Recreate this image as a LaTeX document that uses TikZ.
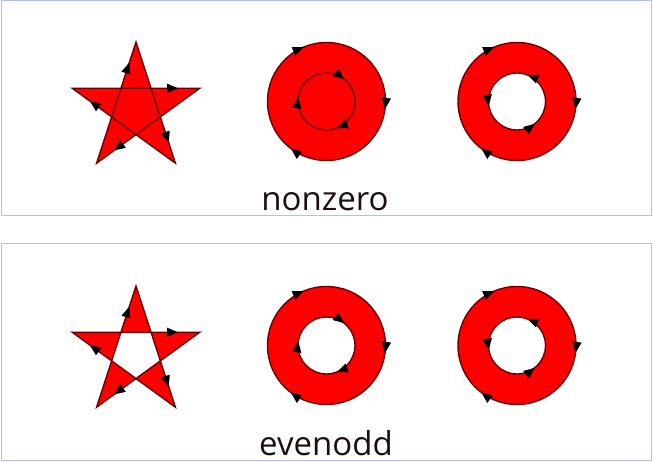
\documentclass[tikz,border=0pt]{standalone}
\usepackage{fontspec}
\setmainfont{Open Sans}
\usetikzlibrary{arrows.meta, decorations.markings}

\definecolor{rimred}{RGB}{105,0,0}
\definecolor{framecol}{RGB}{180,190,240}
\definecolor{inkcol}{RGB}{30,15,15}

\begin{document}
\begin{tikzpicture}[x=1pt, y=-1pt,
        rim/.style={draw=rimred, line width=1.4pt},
        ticks/.style n args={2}{postaction={decorate}, decoration={markings,
            mark=between positions #1 and 1 step #2 with {\arrow[black]{Triangle[length=11pt, width=9pt]}}}},
        panel/.style={draw=framecol, line width=1pt},
        caption/.style={anchor=base, text=inkcol, font=\fontsize{33}{40}\selectfont}]
    \useasboundingbox (0,0) rectangle (653,462);

    % nonzero panel
    \draw[panel] (1,1) rectangle (651,216);
    \coordinate (T1) at (136,42);
    \coordinate (R1) at (199.7,88.3);
    \coordinate (BR1) at (175.4,163.2);
    \coordinate (BL1) at (96.6,163.2);
    \coordinate (L1) at (72.3,88.3);
    \path[fill=red, rim, ticks={0.166}{0.2}] (T1) -- (BR1) -- (L1) -- (R1) -- (BL1) -- cycle;

    \coordinate (C1) at (326.5,101.5);
    \coordinate (C2) at (517,101.5);
    \fill[red] (C1) ++(59,0) arc[start angle=0, end angle=360, radius=59]
        (C1) ++(28.5,0) arc[start angle=0, end angle=360, radius=28.5];
    \draw[rim, ticks={0.02}{0.3333}] (C1) ++(59,0) arc[start angle=0, end angle=360, radius=59];
    \draw[rim, ticks={0.19}{0.3333}] (C1) ++(28.5,0) arc[start angle=0, end angle=360, radius=28.5];
    \fill[red] (C2) ++(59,0) arc[start angle=0, end angle=360, radius=59]
        (C2) ++(28.5,0) arc[start angle=0, end angle=-360, radius=28.5];
    \draw[rim, ticks={0.02}{0.3333}] (C2) ++(59,0) arc[start angle=0, end angle=360, radius=59];
    \draw[rim, ticks={0.19}{0.3333}] (C2) ++(28.5,0) arc[start angle=0, end angle=-360, radius=28.5];

    \node[caption] (nz) at (325,211) {nonzero};

    % evenodd panel
    \draw[panel] (1,244) rectangle (651,460);
    \coordinate (T2) at (136,286);
    \coordinate (R2) at (199.7,332.3);
    \coordinate (BR2) at (175.4,407.2);
    \coordinate (BL2) at (96.6,407.2);
    \coordinate (L2) at (72.3,332.3);
    \path[fill=red, even odd rule, rim, ticks={0.166}{0.2}] (T2) -- (BR2) -- (L2) -- (R2) -- (BL2) -- cycle;

    \coordinate (C3) at (326.5,345.5);
    \coordinate (C4) at (517,345.5);
    \fill[red, even odd rule] (C3) ++(59,0) arc[start angle=0, end angle=360, radius=59]
        (C3) ++(28.5,0) arc[start angle=0, end angle=360, radius=28.5];
    \draw[rim, ticks={0.02}{0.3333}] (C3) ++(59,0) arc[start angle=0, end angle=360, radius=59];
    \draw[rim, ticks={0.19}{0.3333}] (C3) ++(28.5,0) arc[start angle=0, end angle=360, radius=28.5];
    \fill[red, even odd rule] (C4) ++(59,0) arc[start angle=0, end angle=360, radius=59]
        (C4) ++(28.5,0) arc[start angle=0, end angle=-360, radius=28.5];
    \draw[rim, ticks={0.02}{0.3333}] (C4) ++(59,0) arc[start angle=0, end angle=360, radius=59];
    \draw[rim, ticks={0.19}{0.3333}] (C4) ++(28.5,0) arc[start angle=0, end angle=-360, radius=28.5];

    \node[caption] (eo) at (326,455) {evenodd};
\end{tikzpicture}
\end{document}
